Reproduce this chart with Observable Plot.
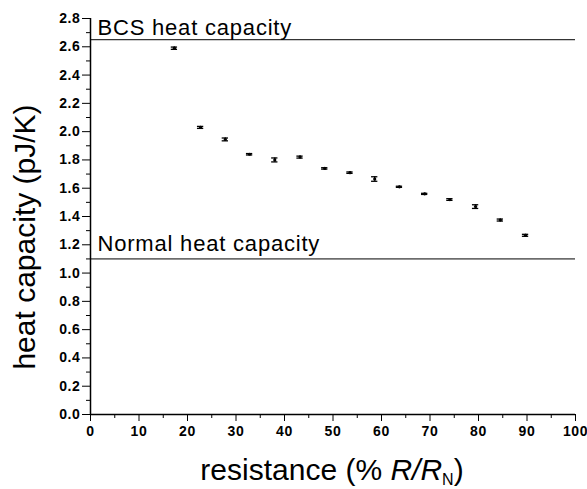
<!DOCTYPE html>
<html>
<head>
<meta charset="utf-8">
<script src="https://cdn.jsdelivr.net/npm/d3@7"></script>
<script src="https://cdn.jsdelivr.net/npm/@observablehq/plot@0.6"></script>
<style>
  html, body { margin: 0; padding: 0; background: #fff; }
  #chart svg { display: block; }
  #chart svg [aria-label="x-axis tick label"] text,
  #chart svg [aria-label="y-axis tick label"] text { letter-spacing: 0.6px; }
</style>
</head>
<body>
<div id="chart"></div>
<script>
// Data
const resistance = [17.3, 22.7, 27.8, 32.8, 38.0, 43.2, 48.3, 53.5, 58.6, 63.7, 68.9, 74.1, 79.4, 84.5, 89.7];
const heatCapacity = [2.59, 2.03, 1.945, 1.84, 1.80, 1.82, 1.74, 1.71, 1.665, 1.61, 1.56, 1.52, 1.47, 1.375, 1.267];
const errors = [0.008, 0.007, 0.01, 0.005, 0.014, 0.007, 0.005, 0.005, 0.016, 0.004, 0.004, 0.006, 0.013, 0.007, 0.007];
const refLabels = ["BCS heat capacity", "Normal heat capacity"];
const refValues = [2.65, 1.10];
const xMajorTicks = [0, 10, 20, 30, 40, 50, 60, 70, 80, 90, 100];
const xMinorTicks = [5, 15, 25, 35, 45, 55, 65, 75, 85, 95];
const yMajorTicks = [0, 0.2, 0.4, 0.6, 0.8, 1.0, 1.2, 1.4, 1.6, 1.8, 2.0, 2.2, 2.4, 2.6, 2.8];
const yMinorTicks = [0.1, 0.3, 0.5, 0.7, 0.9, 1.1, 1.3, 1.5, 1.7, 1.9, 2.1, 2.3, 2.5, 2.7];
const yLabel = "heat capacity (pJ/K)";

const data = resistance.map((x, i) => ({x, y: heatCapacity[i], e: errors[i]}));
const refs = refValues.map((v, i) => ({y: v, label: refLabels[i]}));
const capHalf = 0.65;
const annot = {y: "y", text: "label", frameAnchor: "left", textAnchor: "start", dx: 7,
  lineAnchor: "bottom", fontSize: 22, fill: "#000"};

const chart = Plot.plot({
  width: 587,
  height: 489,
  marginLeft: 90,
  marginRight: 12,
  marginTop: 18,
  marginBottom: 75,
  style: {fontFamily: "'Liberation Sans', Arial, sans-serif", color: "#000", background: "#fff"},
  x: {domain: [0, 100]},
  y: {domain: [0, 2.8]},
  marks: [
    Plot.axisX({ticks: xMajorTicks, tickSize: 7, tickPadding: 5, fontSize: 14, fontWeight: "bold", label: null, tickFormat: d3.format("d")}),
    Plot.axisX({ticks: xMinorTicks, tickSize: 4, text: null, label: null}),
    Plot.axisY({ticks: yMajorTicks, tickSize: 8, tickPadding: 2, fontSize: 14, fontWeight: "bold", tickFormat: d3.format(".1f"), label: null}),
    Plot.axisY({ticks: yMinorTicks, tickSize: 4, text: null, label: null}),
    Plot.ruleX([0], {stroke: "#000", strokeWidth: 1.5}),
    Plot.ruleY([0], {stroke: "#000", strokeWidth: 1.5}),
    Plot.ruleY(refs, {y: "y", stroke: "#000", strokeWidth: 1}),
    Plot.text(refs.slice(0, 1), {...annot, dy: -4.5}),
    Plot.text(refs.slice(1, 2), {...annot, dy: -7.5}),
    Plot.ruleX(data, {x: "x", y1: d => d.y - d.e, y2: d => d.y + d.e, stroke: "#000", strokeWidth: 1.5}),
    Plot.ruleY(data, {y: d => d.y + d.e, x1: d => d.x - capHalf, x2: d => d.x + capHalf, stroke: "#000", strokeWidth: 1.3}),
    Plot.ruleY(data, {y: d => d.y - d.e, x1: d => d.x - capHalf, x2: d => d.x + capHalf, stroke: "#000", strokeWidth: 1.3}),
    Plot.dot(data, {x: "x", y: "y", r: 1.6, fill: "#000", stroke: "none"})
  ]
});

document.getElementById("chart").append(chart);

const svg = d3.select(chart);
svg.selectAll("g[aria-label='text'] text").style("letter-spacing", "0.8px");

// y axis label
svg.append("text")
  .attr("transform", "translate(35,237) rotate(-90)")
  .attr("text-anchor", "middle")
  .attr("font-size", 30)
  .attr("fill", "#000")
  .text(yLabel);

// x axis label with italics and subscript
const xl = svg.append("text")
  .attr("x", 332)
  .attr("y", 480)
  .attr("text-anchor", "middle")
  .attr("font-size", 30)
  .attr("fill", "#000");
xl.append("tspan").text("resistance (% ");
xl.append("tspan").attr("font-style", "italic").text("R/R");
xl.append("tspan").attr("font-size", 16).attr("dy", 5).text("N");
xl.append("tspan").attr("dy", -5).text(")");
</script>
</body>
</html>
